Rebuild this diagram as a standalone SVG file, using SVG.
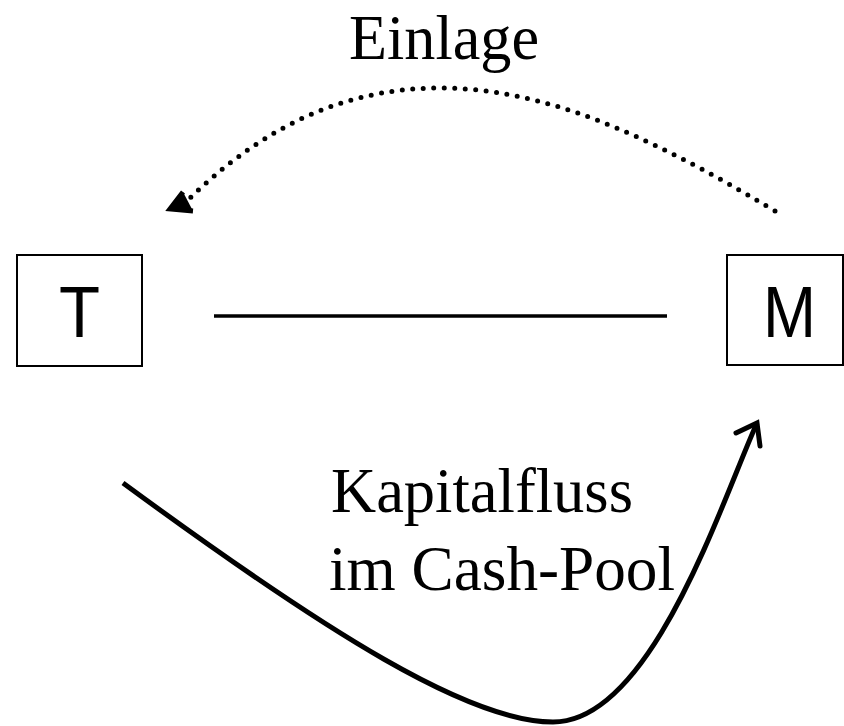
<svg xmlns="http://www.w3.org/2000/svg" width="844" height="726" viewBox="0 0 844 726">
<style>
.box{fill:#fff;stroke:#000;stroke-width:2}
.lbl{font-family:"Liberation Sans",Arial,sans-serif;font-size:72px;fill:#000}
.ser{font-family:"Liberation Serif","Times New Roman",serif;fill:#000}
.solid{fill:none;stroke:#000;stroke-width:5}
.dots{fill:none;stroke:#000;stroke-width:5;stroke-linecap:round;stroke-dasharray:0 10.5}
</style>
<rect width="844" height="726" fill="#fff"/>
<g id="node-T">
<rect class="box" x="17" y="255" width="125" height="111"/>
<text class="lbl" x="59" y="337" textLength="41" lengthAdjust="spacingAndGlyphs">T</text>
</g>
<g id="node-M">
<rect class="box" x="727" y="255" width="116" height="110"/>
<text class="lbl" x="763" y="337" textLength="53" lengthAdjust="spacingAndGlyphs">M</text>
</g>
<g id="connectors">
<line x1="214" y1="316" x2="667" y2="316" stroke="#000" stroke-width="3.3"/>
<path class="dots" d="M775,211 C640,130 540,88 440,88 C330,88 250,140 190,198"/>
<path d="M183,192 L170,209 L193,211" fill="#000" stroke="#000" stroke-width="5" stroke-linejoin="miter"/>
<path class="solid" d="M123,483 C330,635 470,722 553,722 C652,722 722,500 757,423"/>
<path class="solid" d="M736,433 L757,423 L760,446" stroke-linecap="round" stroke-linejoin="miter"/>
</g>
<g id="labels">
<text class="ser" x="349" y="59" font-size="63" textLength="190" lengthAdjust="spacingAndGlyphs">Einlage</text>
<text class="ser" x="331" y="512" font-size="63" textLength="302" lengthAdjust="spacingAndGlyphs">Kapitalfluss</text>
<text class="ser" x="329" y="590" font-size="63" textLength="346" lengthAdjust="spacingAndGlyphs">im Cash-Pool</text>
</g>
</svg>
